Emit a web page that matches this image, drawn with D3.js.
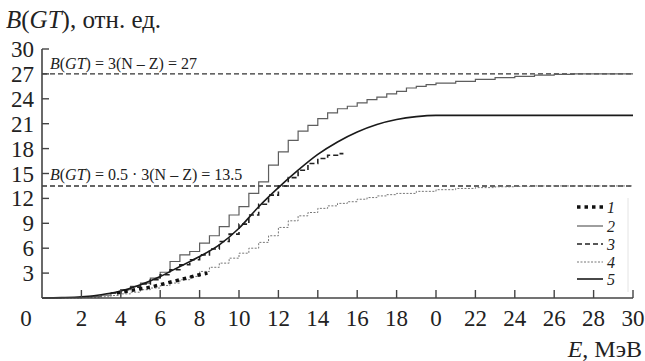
<!DOCTYPE html>
<html>
<head>
<meta charset="utf-8">
<script src="https://cdn.jsdelivr.net/npm/d3@7"></script>
<style>
  body { margin: 0; background: #fff; }
</style>
</head>
<body>
<div id="chart"></div>
<script>
// tick labels as printed (20 is printed as "0")
var xTicks = [2, 4, 6, 8, 10, 12, 14, 16, 18, 20, 22, 24, 26, 28, 30];
var xTickLabels = ["2", "4", "6", "8", "10", "12", "14", "16", "18", "0", "22", "24", "26", "28", "30"];
var yTicks = [3, 6, 9, 12, 15, 18, 21, 24, 27, 30];

// reference levels
var refLevels = [27, 13.5];
var refLabels = [" = 3(N \u2013 Z) = 27", " = 0.5 \u00b7 3(N \u2013 Z) = 13.5"];

// curve 1 - experiment (thick dotted)
var e1 = [3.8, 4.5, 5, 5.5, 6, 6.5, 7, 7.5, 8, 8.4];
var b1 = [0.6, 0.9, 1.1, 1.3, 1.6, 1.9, 2.2, 2.5, 2.8, 3.0];

// curve 2 - thin staircase, saturates at 27
var e2 = [0, 1, 2, 2.5, 3, 3.5, 4, 4.5, 5, 5.5, 6, 6.5, 7, 7.5, 8, 8.5, 9, 9.5, 10, 10.5, 11, 11.5, 12, 12.5, 13, 13.5, 14, 14.5, 15, 15.5, 16, 16.5, 17, 17.5, 18, 18.5, 19, 19.5, 20, 21, 22, 23, 24, 25, 26, 27, 30];
var b2 = [0, 0.05, 0.1, 0.2, 0.35, 0.6, 1.0, 1.4, 1.8, 2.4, 3.1, 4.4, 5.2, 5.6, 6.6, 7.5, 8.6, 10.0, 11.0, 12.6, 14.0, 16.0, 17.6, 19.0, 20.1, 20.8, 21.6, 22.3, 22.8, 23.1, 23.5, 23.9, 24.2, 24.6, 24.9, 25.3, 25.5, 25.7, 25.9, 26.1, 26.35, 26.55, 26.7, 26.85, 26.95, 27.0, 27.0];

// curve 3 - dashed staircase
var e3 = [3.5, 4, 4.5, 5, 5.5, 6, 6.5, 7, 7.5, 8, 8.5, 9, 9.5, 10, 10.5, 11, 11.5, 12, 12.5, 13, 13.5, 14, 14.5, 15, 15.3];
var b3 = [0.6, 1.0, 1.3, 1.7, 2.2, 2.8, 3.4, 4.0, 4.6, 5.2, 5.9, 6.8, 7.7, 8.9, 10.0, 11.3, 12.4, 13.5, 14.5, 15.4, 16.2, 16.8, 17.2, 17.4, 17.4];

// curve 4 - grey dotted staircase, saturates at 13.5
var e4 = [0, 2, 3, 3.5, 4, 4.5, 5, 5.5, 6, 6.5, 7, 7.5, 8, 8.5, 9, 9.5, 10, 10.5, 11, 11.5, 12, 12.5, 13, 13.5, 14, 14.5, 15, 15.5, 16, 16.5, 17, 17.5, 18, 19, 20, 21, 22, 23, 24, 25, 30];
var b4 = [0, 0.05, 0.15, 0.3, 0.5, 0.7, 1.0, 1.2, 1.5, 1.8, 2.2, 2.6, 3.2, 3.7, 4.2, 4.8, 5.4, 6.0, 6.7, 7.5, 8.5, 9.3, 9.9, 10.3, 10.8, 11.1, 11.4, 11.6, 11.9, 12.1, 12.3, 12.45, 12.6, 12.85, 13.05, 13.2, 13.3, 13.4, 13.45, 13.5, 13.5];

// curve 5 - smooth solid, flat at 22 above 20 MeV
var e5 = [0, 1, 2, 3, 4, 5, 6, 7, 8, 9, 10, 11, 12, 13, 14, 15, 16, 17, 18, 19, 20, 30];
var b5 = [0, 0.05, 0.15, 0.4, 0.85, 1.6, 2.6, 3.8, 5.0, 6.4, 8.4, 11.0, 13.3, 15.4, 17.3, 18.8, 20.0, 20.9, 21.5, 21.85, 22.0, 22.0];

var legendLabels = ["1", "2", "3", "4", "5"];

var serif = "'Liberation Serif', 'Times New Roman', serif";

function toPoints(es, bs) {
    return es.map((e, i) => ({e: e, b: bs[i]}));
}

// "B(GT)" with italic letters, then the rest of the text
function addBGT(textSel, rest) {
    textSel.append("tspan").attr("font-style", "italic").text("B");
    textSel.append("tspan").text("(");
    textSel.append("tspan").attr("font-style", "italic").text("GT");
    textSel.append("tspan").text(")" + rest);
}

function drawChart() {
    const width = 645, height = 361;

    const svg = d3.select("#chart").append("svg")
        .attr("width", width)
        .attr("height", height)
        .style("font-family", serif);

    const x = d3.scaleLinear().domain([0, 30]).range([42, 633]);
    const y = d3.scaleLinear().domain([0, 30]).range([298, 49]);

    // reference dashed lines
    refLevels.forEach(function (lvl, i) {
        svg.append("line")
            .attr("x1", x(0)).attr("x2", x(30))
            .attr("y1", y(lvl)).attr("y2", y(lvl))
            .attr("stroke", "#333")
            .attr("stroke-width", 1.4)
            .attr("stroke-dasharray", "5,3");
        const t = svg.append("text")
            .attr("x", 50)
            .attr("y", y(lvl) - (i == 0 ? 5 : 6))
            .attr("font-size", 16)
            .attr("fill", "#222");
        addBGT(t, refLabels[i]);
    });

    const stepLine = d3.line()
        .x(d => x(d.e))
        .y(d => y(d.b))
        .curve(d3.curveStepAfter);

    const smoothLine = d3.line()
        .x(d => x(d.e))
        .y(d => y(d.b))
        .curve(d3.curveMonotoneX);

    // curve 4
    svg.append("path")
        .datum(toPoints(e4, b4))
        .attr("d", stepLine)
        .attr("fill", "none")
        .attr("stroke", "#777")
        .attr("stroke-width", 1)
        .attr("stroke-dasharray", "2,1.5");

    // curve 2
    svg.append("path")
        .datum(toPoints(e2, b2))
        .attr("d", stepLine)
        .attr("fill", "none")
        .attr("stroke", "#5e5e5e")
        .attr("stroke-width", 1.2);

    // curve 3
    svg.append("path")
        .datum(toPoints(e3, b3))
        .attr("d", stepLine)
        .attr("fill", "none")
        .attr("stroke", "#222")
        .attr("stroke-width", 1.6)
        .attr("stroke-dasharray", "5,3");

    // curve 5
    svg.append("path")
        .datum(toPoints(e5, b5))
        .attr("d", smoothLine)
        .attr("fill", "none")
        .attr("stroke", "#1a1a1a")
        .attr("stroke-width", 1.6);

    // curve 1
    svg.append("path")
        .datum(toPoints(e1, b1))
        .attr("d", d3.line().x(d => x(d.e)).y(d => y(d.b)))
        .attr("fill", "none")
        .attr("stroke", "#111")
        .attr("stroke-width", 3.5)
        .attr("stroke-dasharray", "3.5,4");

    // axes
    const axisColor = "#444";
    svg.append("line")
        .attr("x1", x(0)).attr("x2", x(0))
        .attr("y1", y(0)).attr("y2", y(30))
        .attr("stroke", axisColor).attr("stroke-width", 1.6);
    svg.append("line")
        .attr("x1", x(0)).attr("x2", x(30))
        .attr("y1", y(0)).attr("y2", y(0))
        .attr("stroke", axisColor).attr("stroke-width", 1.6);

    svg.selectAll(".ytick")
        .data(yTicks)
      .enter().append("line")
        .attr("class", "ytick")
        .attr("x1", x(0)).attr("x2", x(0) + 7)
        .attr("y1", d => y(d)).attr("y2", d => y(d))
        .attr("stroke", axisColor).attr("stroke-width", 1.4);

    svg.selectAll(".ylab")
        .data(yTicks)
      .enter().append("text")
        .attr("class", "ylab")
        .attr("x", 34)
        .attr("y", d => y(d) + 8)
        .attr("text-anchor", "end")
        .attr("font-size", 23)
        .attr("fill", "#222")
        .text(d => d);

    svg.selectAll(".xtick")
        .data(xTicks)
      .enter().append("line")
        .attr("class", "xtick")
        .attr("x1", d => x(d)).attr("x2", d => x(d))
        .attr("y1", y(0)).attr("y2", y(0) - 8)
        .attr("stroke", axisColor).attr("stroke-width", 1.4);

    svg.selectAll(".xlab")
        .data(xTicks)
      .enter().append("text")
        .attr("class", "xlab")
        .attr("x", d => x(d))
        .attr("y", 326)
        .attr("text-anchor", "middle")
        .attr("font-size", 23)
        .attr("fill", "#222")
        .text((d, i) => xTickLabels[i]);

    // origin label
    svg.append("text")
        .attr("x", 26).attr("y", 326)
        .attr("text-anchor", "middle")
        .attr("font-size", 23)
        .attr("fill", "#222")
        .text("0");

    // axis titles
    const yt = svg.append("text")
        .attr("x", 6).attr("y", 28)
        .attr("font-size", 25)
        .attr("fill", "#222");
    addBGT(yt, ", отн. ед.");

    const xt = svg.append("text")
        .attr("x", 642).attr("y", 357)
        .attr("text-anchor", "end")
        .attr("font-size", 24)
        .attr("fill", "#222");
    xt.append("tspan").attr("font-style", "italic").text("E");
    xt.append("tspan").text(", МэВ");

    // legend
    const legendY = [207, 226, 244, 262, 279];
    const legendStyles = [
        {stroke: "#111", width: 3.5, dash: "3.5,4"},
        {stroke: "#5e5e5e", width: 1.2, dash: null},
        {stroke: "#222", width: 1.6, dash: "5,3"},
        {stroke: "#777", width: 1, dash: "2,1.5"},
        {stroke: "#1a1a1a", width: 1.6, dash: null}
    ];
    svg.append("line")
        .attr("x1", 628).attr("x2", 628)
        .attr("y1", 198).attr("y2", 292)
        .attr("stroke", "#e4e4e4").attr("stroke-width", 1);
    legendLabels.forEach(function (lab, i) {
        svg.append("line")
            .attr("x1", 577).attr("x2", 603)
            .attr("y1", legendY[i]).attr("y2", legendY[i])
            .attr("stroke", legendStyles[i].stroke)
            .attr("stroke-width", legendStyles[i].width)
            .attr("stroke-dasharray", legendStyles[i].dash);
        svg.append("text")
            .attr("x", 607).attr("y", legendY[i] + 6)
            .attr("font-size", 16)
            .attr("font-style", "italic")
            .attr("fill", "#222")
            .text(lab);
    });
}

document.addEventListener("DOMContentLoaded", () => {
    drawChart();
});
</script>
</body>
</html>
